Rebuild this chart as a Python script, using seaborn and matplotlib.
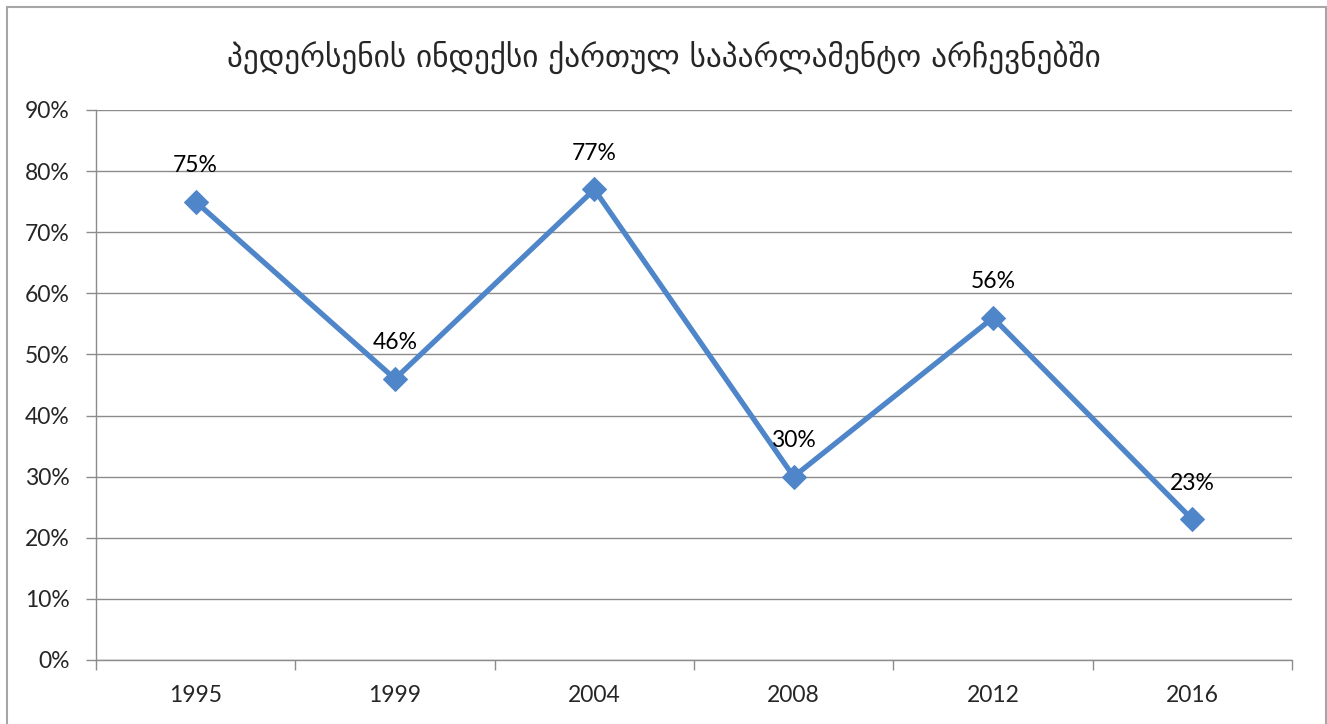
import matplotlib
matplotlib.use("Agg")
import matplotlib.pyplot as plt
import seaborn as sns
import pandas as pd
from matplotlib.ticker import FixedLocator, PercentFormatter
from matplotlib.patches import Rectangle

# --- data
years = ['1995', '1999', '2004', '2008', '2012', '2016']
pedersen = [75, 46, 77, 30, 56, 23]
title = 'პედერსენის ინდექსი ქართულ საპარლამენტო არჩევნებში'

df = pd.DataFrame({'year': years, 'value': pedersen})

sns.set_theme(style='white')
plt.rcParams['font.family'] = ['Lato', 'DejaVu Sans']

f = plt.figure(figsize=(13.27, 7.24), dpi=100)
ax = f.add_axes([96/1327, 1-660/724, (1292-96)/1327, (660-110)/724])

blue = '#4F86C9'
sns.lineplot(data=df, x='year', y='value', ax=ax, color=blue, linewidth=3.8,
             marker='D', markersize=12, markeredgecolor=blue, sort=False)

# --- labels above points
for i, v in enumerate(pedersen):
    ax.annotate(str(v) + '%', xy=(i, v), xytext=(0, 26), textcoords='offset points',
                ha='center', va='center', fontsize=16.5, color='black')

ax.set_xlim(-0.5, len(years) - 0.5)
ax.set_ylim(0, 90)
ax.set_yticks(range(0, 91, 10))
ax.yaxis.set_major_formatter(PercentFormatter(decimals=0))
ax.yaxis.grid(True, color='#8C8C8C', linewidth=1)
ax.set_axisbelow(True)
ax.set_xlabel('')
ax.set_ylabel('')

# tick marks at category borders
ax.xaxis.set_minor_locator(FixedLocator([i - 0.5 for i in range(len(years) + 1)]))
ax.tick_params(axis='x', which='major', length=0, labelsize=16.5, pad=18)
ax.tick_params(axis='x', which='minor', length=7, width=1, color='#8C8C8C', direction='out', bottom=True)
ax.tick_params(axis='y', length=7, width=1, color='#8C8C8C', direction='out', left=True, labelsize=16.5, pad=12)

for s in ['top', 'right']:
    ax.spines[s].set_visible(False)
for s in ['left', 'bottom']:
    ax.spines[s].set_color('#8C8C8C')
    ax.spines[s].set_linewidth(1)

f.text(0.5, 1 - 57/724, title, ha='center', va='center', fontsize=22.5,
       family=['DejaVu Sans'])

# chart border
f.patches.append(Rectangle((7/1327, -0.01), (1326-7)/1327, 1.01 - 7/724,
                           transform=f.transFigure, fill=False,
                           edgecolor='#A6A6A6', linewidth=1.5))

plt.savefig('out.png', dpi=100)
